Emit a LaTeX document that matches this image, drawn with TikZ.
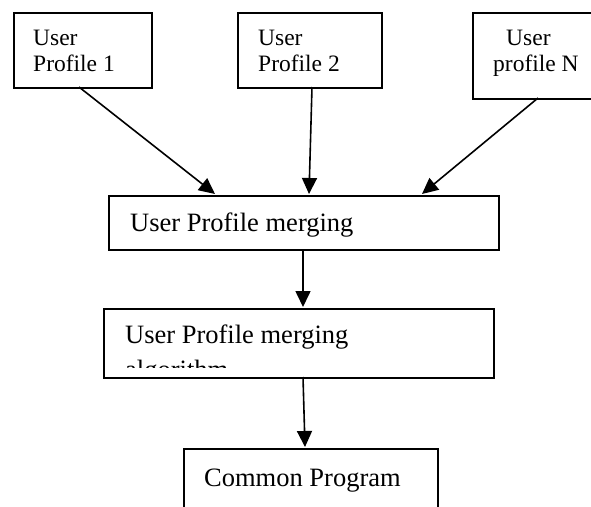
\documentclass[tikz,border=0pt]{standalone}
\usepackage{fontspec}
\setmainfont{Liberation Serif}
\usetikzlibrary{arrows.meta}
\tikzset{
  box/.style={draw=black, line width=1.8pt, anchor=north west, inner sep=0pt, fill=none},
  smalltxt/.style={anchor=base west, inner sep=0pt, font=\fontsize{23.5}{25}\selectfont},
  bigtxt/.style={anchor=base west, inner sep=0pt, font=\fontsize{26.5}{30}\selectfont},
  arr/.style={draw=black, line width=1.6pt, -{Triangle[width=15pt,length=16pt]}}
}
\begin{document}
\begin{tikzpicture}[x=1pt,y=-1pt]
\useasboundingbox (0,0) rectangle (591,506);
% top boxes
\node[box, minimum width=138pt, minimum height=75pt] (p1) at (13,12) {};
\node[box, minimum width=144pt, minimum height=75pt] (p2) at (237,12) {};
\node[box, minimum width=122pt, minimum height=86pt] (pn) at (472,12) {};
\node[smalltxt] (p1a) at (33,45) {User};
\node[smalltxt] (p1b) at (33,71) {Profile 1};
\node[smalltxt] (p2a) at (258,45) {User};
\node[smalltxt] (p2b) at (258,71) {Profile 2};
\node[smalltxt] (pna) at (506,45) {User};
\node[smalltxt] (pnb) at (493,71) {profile N};
% merging box
\node[box, minimum width=390pt, minimum height=54pt] (m) at (108,195) {};
\node[bigtxt] (mt) at (130,231) {User Profile merging};
% algorithm box
\node[box, minimum width=390pt, minimum height=69pt] (a) at (103,308) {};
\begin{scope}
\clip (103,308) rectangle (493,367);
\node[bigtxt] (at1) at (125,343) {User Profile merging};
\node[bigtxt] (at2) at (125,378) {algorithm};
\end{scope}
% common program box
\node[box, minimum width=254pt, minimum height=70pt] (c) at (183,448) {};
\node[bigtxt] (ct) at (204,486) {Common Program};
% connector end points
\coordinate (s1) at (79,87);
\coordinate (e1) at (215,194);
\coordinate (s2) at (312,87);
\coordinate (e2) at (309,194);
\coordinate (sn) at (538,98);
\coordinate (en) at (422,194);
\coordinate (sm) at (303,249);
\coordinate (ea) at (303,307);
\coordinate (sa) at (303,377);
\coordinate (ec) at (305,447);
\draw[arr] (s1) -- (e1);
\draw[arr] (s2) -- (e2);
\draw[arr] (sn) -- (en);
\draw[arr] (sm) -- (ea);
\draw[arr] (sa) -- (ec);
\end{tikzpicture}
\end{document}
